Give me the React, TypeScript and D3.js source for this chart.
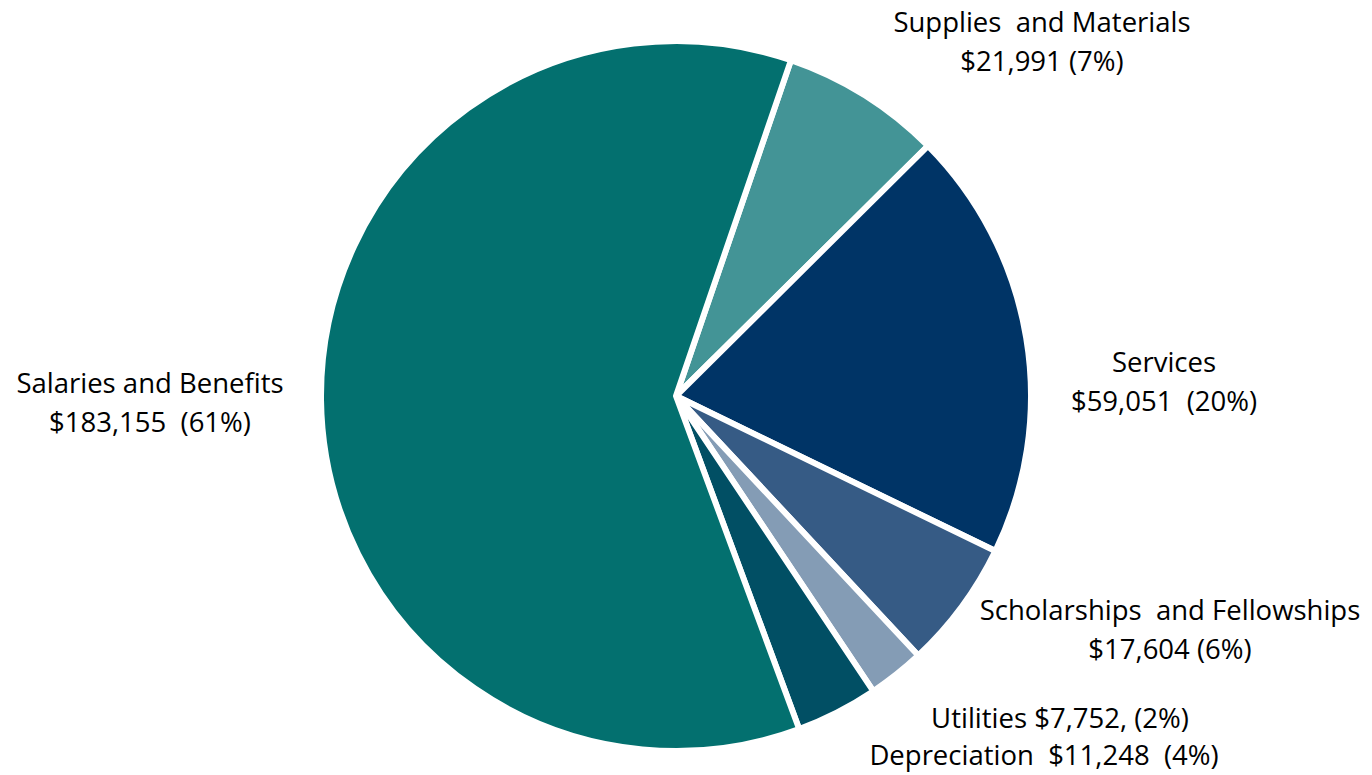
import React from "react";
import * as d3 from "d3";

const categories = [
  "Supplies and Materials",
  "Services",
  "Scholarships and Fellowships",
  "Utilities",
  "Depreciation",
  "Salaries and Benefits",
];
const values = [21991, 59051, 17604, 7752, 11248, 183155];
const colors = ["#439496", "#003466", "#365B85", "#849CB5", "#014F64", "#03706F"];
const labelLines = [
  ["Supplies  and Materials", "$21,991 (7%)"],
  ["Services", "$59,051  (20%)"],
  ["Scholarships  and Fellowships", "$17,604 (6%)"],
  ["Utilities $7,752, (2%)"],
  ["Depreciation  $11,248  (4%)"],
  ["Salaries and Benefits", "$183,155  (61%)"],
];
const labelPos = [
  [1042, 22],
  [1164, 362],
  [1170, 610],
  [1060, 718],
  [1044, 755],
  [150, 383],
];

export default function App() {
  const W = 1372, H = 775;
  const cx = 676, cy = 396, r = 355;
  const start = (18.9 * Math.PI) / 180;
  const pie = d3.pie<number>().sort(null).value((d) => d).startAngle(start).endAngle(start + 2 * Math.PI);
  const arcs = pie(values);
  const arc = d3.arc<d3.PieArcDatum<number>>().innerRadius(0).outerRadius(r);
  return (
    <svg width={W} height={H} style={{ position: "absolute", left: 0, top: 0, background: "#fff" }}>
      <g transform={`translate(${cx},${cy})`}>
        {arcs.map((a, i) => (
          <path key={i} d={arc(a) || ""} fill={colors[i]} stroke="#fff" strokeWidth={6} strokeLinejoin="round" />
        ))}
      </g>
      {labelLines.map((lines, i) => (
        <text key={i} textAnchor="middle" fontFamily="'Open Sans', sans-serif" fontSize={27.5} fill="#000" style={{ whiteSpace: "pre", fontVariantLigatures: "none" }}>
          {lines.map((l, j) => (
            <tspan key={j} x={labelPos[i][0]} y={labelPos[i][1] + j * 39} dy="0.35em">
              {l}
            </tspan>
          ))}
        </text>
      ))}
    </svg>
  );
}
